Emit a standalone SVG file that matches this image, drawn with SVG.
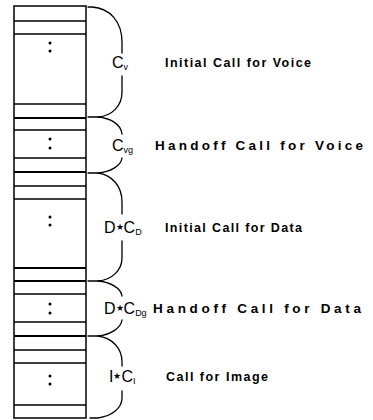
<svg xmlns="http://www.w3.org/2000/svg" width="373" height="420" viewBox="0 0 373 420">
<style>
.ln{stroke:#000;stroke-width:1.5;fill:none}
.thk{stroke:#000;stroke-width:2;fill:none}
.br{stroke:#000;stroke-width:1.3;fill:none;stroke-linecap:round}
.dot{fill:#000}
.sym{font-family:"Liberation Sans",Arial,sans-serif;font-size:16px;fill:#000}
.sub{font-size:9px}
.star{font-size:9px}
.lbl{font-family:"Liberation Sans",Arial,sans-serif;font-size:12.5px;font-weight:bold;fill:#000}
.big{font-size:13.5px}
</style>
<rect width="373" height="420" fill="#fff"/>
<g id="column">
<rect x="14" y="6" width="72" height="412" class="ln"/>
<path class="ln" d="M14 21H86M14 34H86M14 104H86M14 130H86M14 158H86M14 186H86M14 199H86M14 294H86M14 322H86M14 350H86M14 363H86M14 405H86"/>
<path class="thk" d="M14 118H86M14 172H86M14 268H86M14 281H86M14 336H86"/>
<circle class="dot" cx="50" cy="43" r="1.5"/><circle class="dot" cx="50" cy="51" r="1.5"/>
<circle class="dot" cx="50" cy="139" r="1.5"/><circle class="dot" cx="50" cy="148" r="1.5"/>
<circle class="dot" cx="50" cy="217" r="1.5"/><circle class="dot" cx="50" cy="225" r="1.5"/>
<circle class="dot" cx="50" cy="304" r="1.5"/><circle class="dot" cx="50" cy="313" r="1.5"/>
<circle class="dot" cx="50" cy="376" r="1.5"/><circle class="dot" cx="50" cy="384" r="1.5"/>
</g>
<g id="braces">
<path class="br" d="M88 7H92C110 8 122 22 122 42V53M122 76V92C122 106 112 116 98 117"/>
<path class="br" d="M88 117H98C110 118 121 124 122 134M122 158C121 166 110 172 98 173"/>
<path class="br" d="M88 173H98C112 175 122 186 122 202V214M122 241V258C122 270 112 280 98 281"/>
<path class="br" d="M88 281H98C110 282 121 288 122 296M122 320C121 328 110 335 98 336"/>
<path class="br" d="M88 336H98C112 338 122 348 122 362V366M122 391V398C122 408 112 416 98 418H90"/>
</g>
<g id="voice-initial">
<text class="sym" x="112" y="68">C<tspan class="sub" dy="2">v</tspan></text>
<text class="lbl" x="165" y="67" textLength="146" lengthAdjust="spacing">Initial Call for Voice</text>
</g>
<g id="voice-handoff">
<text class="sym" x="112" y="151">C<tspan class="sub" dy="2">vg</tspan></text>
<text class="lbl big" x="155" y="150" textLength="208" lengthAdjust="spacing">Handoff Call for Voice</text>
</g>
<g id="data-initial">
<text class="sym" x="104" y="233">D<tspan class="star" dy="-3">★</tspan><tspan dy="3">C</tspan><tspan class="sub" dy="2">D</tspan></text>
<text class="lbl" x="165" y="232" textLength="137" lengthAdjust="spacing">Initial Call for Data</text>
</g>
<g id="data-handoff">
<text class="sym" x="104" y="314">D<tspan class="star" dy="-3">★</tspan><tspan dy="3">C</tspan><tspan class="sub" dy="2">Dg</tspan></text>
<text class="lbl big" x="153" y="313" textLength="208" lengthAdjust="spacing">Handoff Call for Data</text>
</g>
<g id="image">
<text class="sym" x="109" y="382">I<tspan class="star" dy="-3">★</tspan><tspan dy="3">C</tspan><tspan class="sub" dy="2">I</tspan></text>
<text class="lbl" x="166" y="381" textLength="102" lengthAdjust="spacing">Call for Image</text>
</g>
</svg>
